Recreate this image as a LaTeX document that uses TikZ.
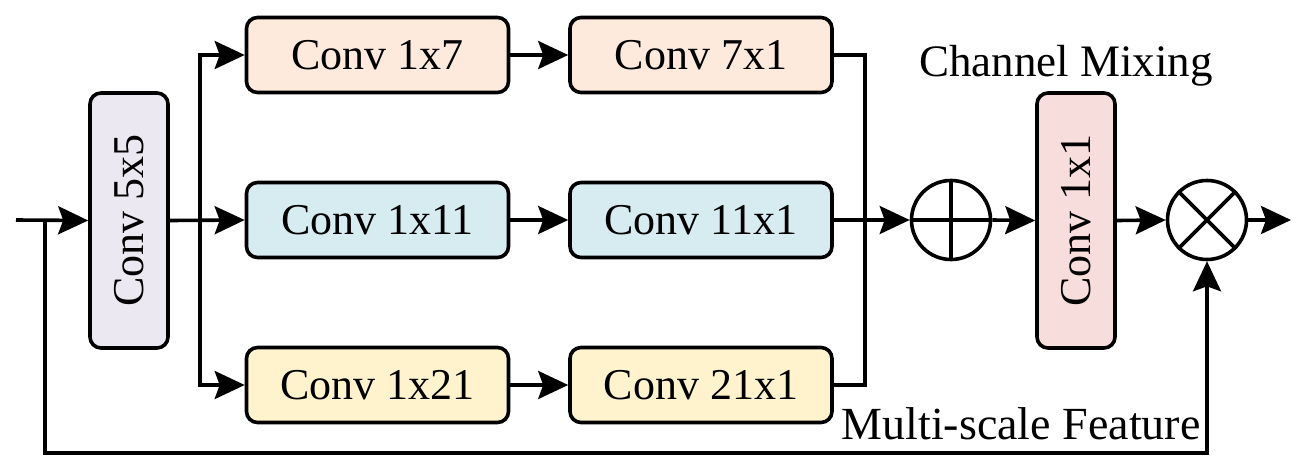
\documentclass[tikz,border=0pt]{standalone}
\usepackage{fontspec}
\setmainfont{Liberation Serif}
\usetikzlibrary{arrows.meta}
\definecolor{peach}{RGB}{253,234,221}
\definecolor{cyanb}{RGB}{214,236,241}
\definecolor{yel}{RGB}{255,243,206}
\definecolor{lav}{RGB}{236,232,241}
\definecolor{pinkb}{RGB}{247,221,220}
\tikzset{
  box/.style={draw, line width=3.6pt, rounded corners=11pt, inner sep=0pt, font=\fontsize{44}{50}\selectfont},
  hbox/.style={box, minimum width=262pt, minimum height=75pt},
  vbox/.style={box, minimum width=78pt, minimum height=255pt},
  op/.style={draw, circle, line width=3.6pt, minimum size=79pt, inner sep=0pt},
  wire/.style={line width=3.6pt},
  arr/.style={wire, -{Stealth[length=30pt,width=28pt,inset=5pt]}},
  lbl/.style={inner sep=0pt}
}
\begin{document}
\begin{tikzpicture}[x=1pt,y=-1pt]
\useasboundingbox (0,0) rectangle (1304,471);
% nodes
\node[vbox, fill=lav] (c55) at (129,220.5) {\rotatebox{90}{Conv 5x5}};
\node[hbox, fill=peach] (a1) at (377.5,55) {Conv 1x7};
\node[hbox, fill=peach] (b1) at (701,55) {Conv 7x1};
\node[hbox, fill=cyanb] (a2) at (377.5,220) {Conv 1x11};
\node[hbox, fill=cyanb] (b2) at (701,220) {Conv 11x1};
\node[hbox, fill=yel] (a3) at (377.5,385) {Conv 1x21};
\node[hbox, fill=yel] (b3) at (701,385) {Conv 21x1};
\node[op] (opl) at (951,220) {};
\node[vbox, fill=pinkb] (c11) at (1076,220.5) {\rotatebox{90}{Conv 1x1}};
\node[op] (otm) at (1207,220) {};
\node[lbl, font=\fontsize{45}{50}\selectfont] (cm) at (1066,66) {Channel Mixing};
\node[lbl, font=\fontsize{46}{50}\selectfont] (msf) at (1021,424) {Multi-scale Feature};
% coordinates
\coordinate (in) at (16,220);
\coordinate (fb) at (45,220);
\coordinate (fbb) at (45,453);
\coordinate (br) at (200,220);
\coordinate (mg) at (865,220);
\coordinate (out) at (1291,220);
% symbols
\draw[wire] (opl.north) -- (opl.south);
\draw[wire] (opl.west) -- (opl.east);
\draw[wire] (otm.north west) -- (otm.south east);
\draw[wire] (otm.north east) -- (otm.south west);
% connectors
\draw[arr] (in) -- (c55.west);
\draw[arr] (fb) -- (fbb) -| (otm.south);
\draw[arr] (c55.east) -- (a2.west);
\draw[arr] (br) |- (a1.west);
\draw[arr] (br) |- (a3.west);
\draw[arr] (a1) -- (b1);
\draw[arr] (a2) -- (b2);
\draw[arr] (a3) -- (b3);
\draw[wire] (b1.east) -| (mg) |- (b3.east);
\draw[arr] (b2.east) -- (opl.west);
\draw[arr] (opl.east) -- (c11.west);
\draw[arr] (c11.east) -- (otm.west);
\draw[arr] (otm.east) -- (out);
\end{tikzpicture}
\end{document}
